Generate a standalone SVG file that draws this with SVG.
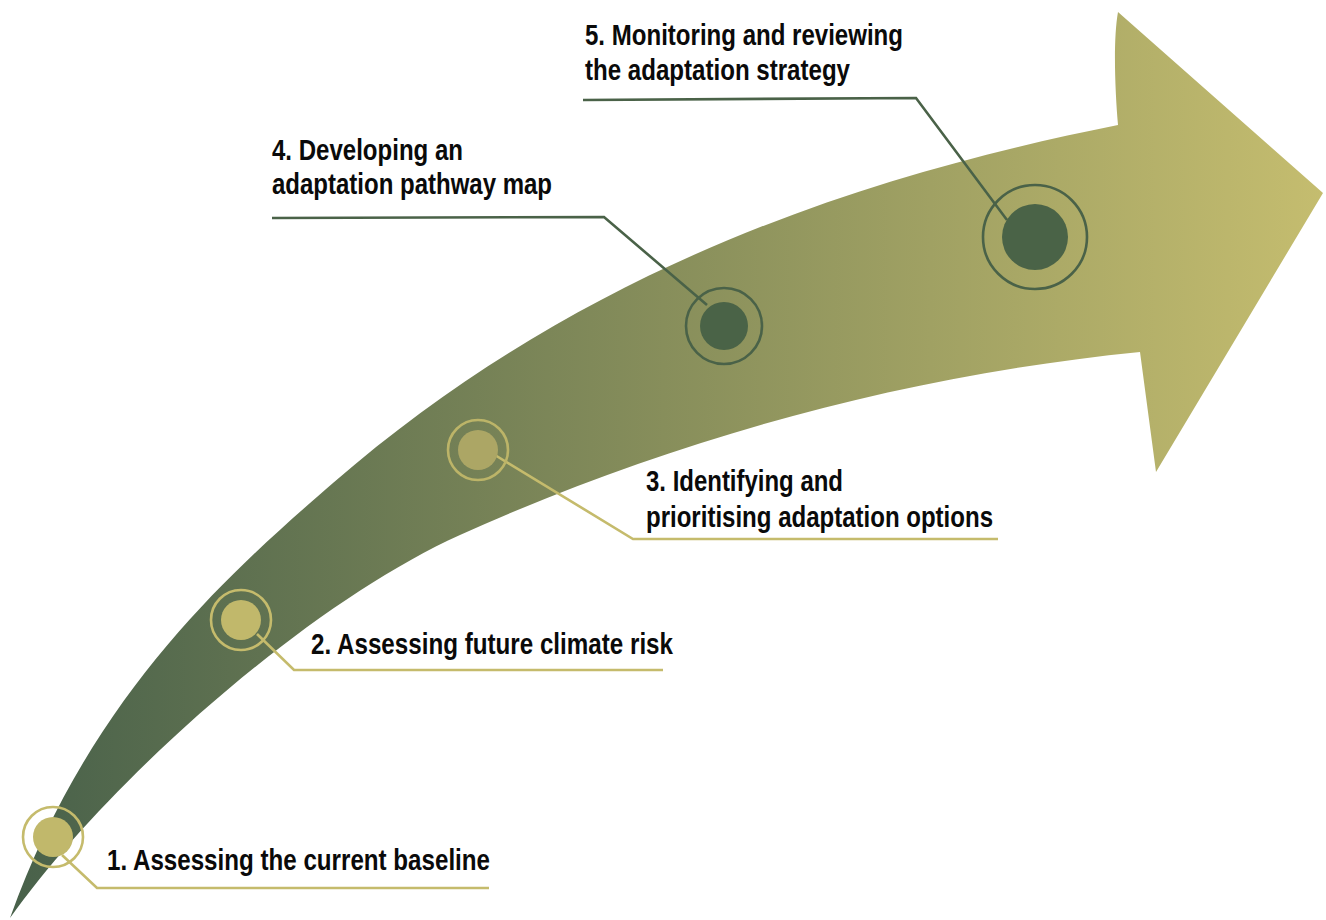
<svg xmlns="http://www.w3.org/2000/svg" width="1326" height="920" viewBox="0 0 1326 920">
  <defs>
    <linearGradient id="arrowGrad" gradientUnits="userSpaceOnUse" x1="0" y1="0" x2="1326" y2="0">
      <stop offset="0" stop-color="#47604a"/>
      <stop offset="0.5" stop-color="#878e5b"/>
      <stop offset="1" stop-color="#c5bd6f"/>
    </linearGradient>
    <style>
      .lbl { font-family: "Liberation Sans Narrow", "Liberation Sans", Arial, sans-serif; font-weight: bold; font-size: 30px; fill: #0a0a0a; }
      .gold { fill: none; stroke: #c5bb6c; stroke-width: 2.6; }
      .dark { fill: none; stroke: #4a6248; stroke-width: 2.6; }
      .goldFill { fill: #c1b86b; }
      .darkFill { fill: #4a6347; }
    </style>
  </defs>

  <g id="arrow">
    <path fill="url(#arrowGrad)" d="M 10,918 C 90,694 233,570 333,483 C 583,265.5 868,175 1118,125 C 1115,90 1113,40 1118,12 L 1323,193 L 1156,472 L 1140,352 C 890,377 660,445 460,535 C 310,602.5 110,778 10,918 Z"/>
  </g>

  <g id="connectors">
    <polyline class="gold" points="62,855 97,888 489,888"/>
    <polyline class="gold" points="257,634 294,670 663,670"/>
    <polyline class="gold" points="490,452 633,539 998,539"/>
    <polyline class="dark" points="272,218 604,217 707,305"/>
    <polyline class="dark" points="583,100 916,98 1007,220"/>
  </g>

  <g id="step1">
    <circle cx="53" cy="837" r="30" class="gold"/>
    <circle cx="53" cy="837" r="20" class="goldFill"/>
    <text class="lbl" x="107" y="870" textLength="383" lengthAdjust="spacingAndGlyphs">1. Assessing the current baseline</text>
  </g>

  <g id="step2">
    <circle cx="241" cy="620" r="30" class="gold"/>
    <circle cx="241" cy="620" r="20" class="goldFill"/>
    <text class="lbl" x="311" y="654" textLength="362" lengthAdjust="spacingAndGlyphs">2. Assessing future climate risk</text>
  </g>

  <g id="step3">
    <circle cx="478" cy="450" r="30" fill="none" stroke="#bcb468" stroke-width="2.6"/>
    <circle cx="478" cy="450" r="20" fill="#aca665"/>
    <text class="lbl" x="646" y="491" textLength="197" lengthAdjust="spacingAndGlyphs">3. Identifying and</text>
    <text class="lbl" x="646" y="527" textLength="347" lengthAdjust="spacingAndGlyphs">prioritising adaptation options</text>
  </g>

  <g id="step4">
    <circle cx="724" cy="326" r="38" class="dark"/>
    <circle cx="724" cy="326" r="24" class="darkFill"/>
    <text class="lbl" x="272" y="160" textLength="191" lengthAdjust="spacingAndGlyphs">4. Developing an</text>
    <text class="lbl" x="272" y="194" textLength="280" lengthAdjust="spacingAndGlyphs">adaptation pathway map</text>
  </g>

  <g id="step5">
    <circle cx="1035" cy="237" r="52" class="dark" stroke-width="3"/>
    <circle cx="1035" cy="237" r="33" class="darkFill"/>
    <text class="lbl" x="585" y="45" textLength="318" lengthAdjust="spacingAndGlyphs">5. Monitoring and reviewing</text>
    <text class="lbl" x="585" y="80" textLength="265" lengthAdjust="spacingAndGlyphs">the adaptation strategy</text>
  </g>
</svg>
